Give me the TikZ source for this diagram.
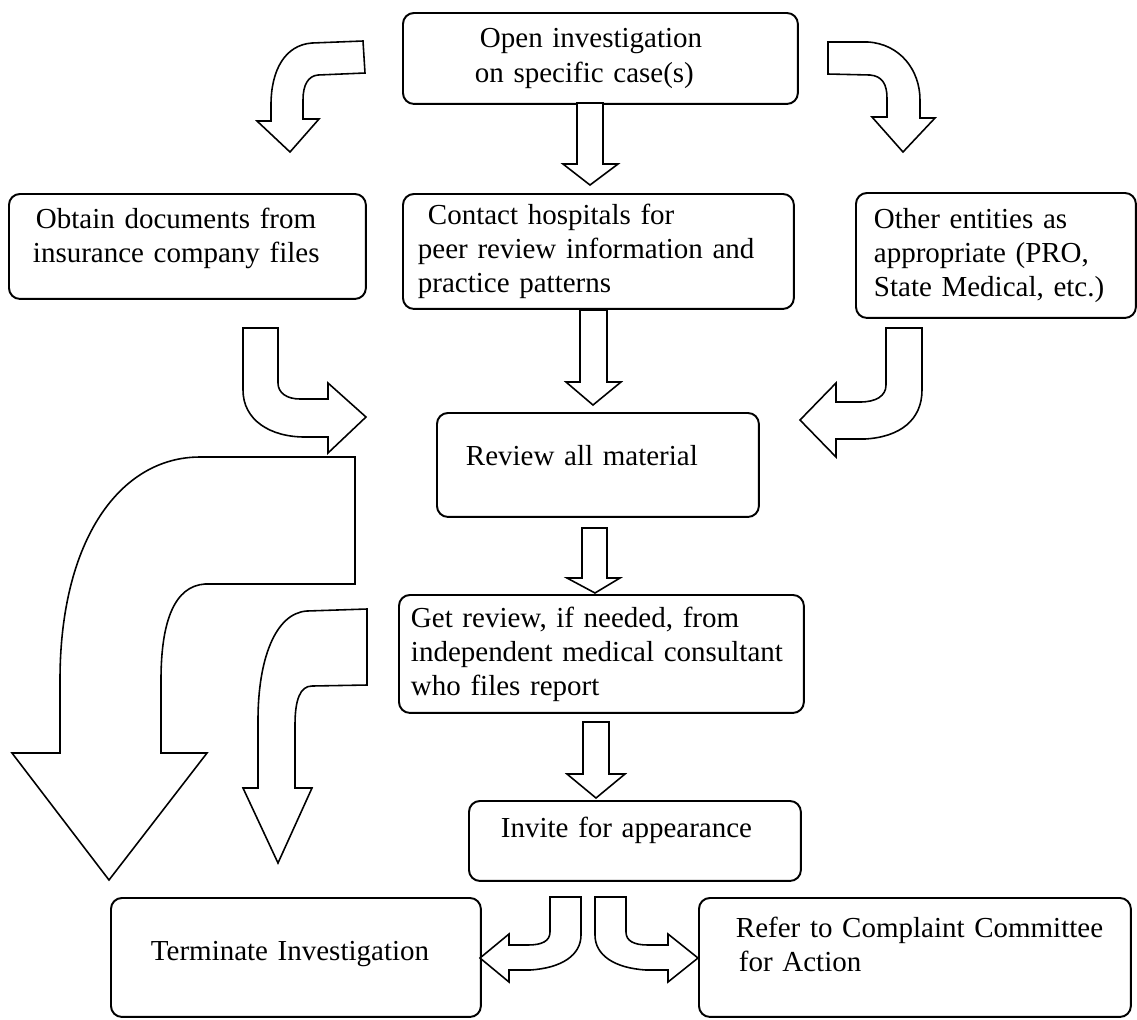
\documentclass[tikz,border=0pt]{standalone}
\usepackage{fontspec}
\setmainfont{Liberation Serif}
\begin{document}
\begin{tikzpicture}[x=0.02cm,y=-0.02cm,
	box/.style={draw,line width=1.1pt,rounded corners=0.22cm,anchor=north west,align=left,inner ysep=0pt,font=\fontsize{16.5}{19.4}\selectfont},
	blockarrow/.style={draw,line width=0.9pt,fill=white,line join=miter}]
	\useasboundingbox (0,0) rectangle (1137,1019);

	%boxes
	\node[box,minimum width=7.9cm,minimum height=1.82cm,text width=5.02cm,inner xsep=1.44cm] (open) at (402,12) {\hspace*{0.1cm}Open investigation\\on specific case(s)};
	\node[box,minimum width=7.14cm,minimum height=2.1cm,text width=6.18cm,inner xsep=0.48cm] (obtain) at (8,193) {\hspace*{0.06cm}Obtain documents from\\insurance company files\\[-0.23cm]\mbox{}};
	\node[box,minimum width=7.82cm,minimum height=2.3cm,text width=7.22cm,inner xsep=0.3cm] (contact) at (402,193) {\hspace*{0.2cm}Contact hospitals for\\peer review information and\\practice patterns};
	\node[box,minimum width=5.6cm,minimum height=2.5cm,text width=4.88cm,inner xsep=0.36cm] (other) at (855,192) {Other entities as\\appropriate (PRO,\\State Medical, etc.)};
	\node[box,minimum width=6.44cm,minimum height=2.08cm,text width=5.28cm,inner xsep=0.58cm] (review) at (436,412) {Review all material\\[-0.32cm]\mbox{}};
	\node[box,minimum width=8.1cm,minimum height=2.36cm,text width=7.62cm,inner xsep=0.24cm] (getrev) at (398,594) {Get review, if needed, from\\independent medical consultant\\who files report};
	\node[box,minimum width=6.64cm,minimum height=1.6cm,text width=5.84cm,inner xsep=0.4cm] (invite) at (468,800) {\hspace*{0.24cm}Invite for appearance\\[-0.15cm]\mbox{}};
	\node[box,minimum width=7.4cm,minimum height=2.38cm,text width=5.8cm,inner xsep=0.8cm] (terminate) at (110,897) {Terminate Investigation\\[-0.43cm]\mbox{}};
	\node[box,minimum width=8.64cm,minimum height=2.38cm,text width=7.84cm,inner xsep=0.4cm] (refer) at (698,897) {\hspace*{0.34cm}Refer to Complaint Committee\\\hspace*{0.4cm}for Action\\[-0.16cm]\mbox{}};

	%straight arrows
	\draw[blockarrow] (577,103) -- (577,164) -- (563,164) -- (590,185) -- (618,164) -- (603,164) -- (603,103) -- cycle; %open to contact
	\draw[blockarrow] (580,310) -- (580,382) -- (566,382) -- (593,405) -- (621,382) -- (607,382) -- (607,310) -- cycle; %contact to review
	\draw[blockarrow] (582,528) -- (582,578) -- (567,578) -- (595,593) -- (620,578) -- (607,578) -- (607,528) -- cycle; %review to get review
	\draw[blockarrow] (583,722) -- (583,774) -- (567,774) -- (596,798) -- (625,774) -- (609,774) -- (609,722) -- cycle; %get review to invite

	%bent arrows from open
	\draw[blockarrow] (363,41) -- (312,43) .. controls (285,45) and (271,70) .. (271,105) -- (271,121) -- (257,121) -- (290,152) -- (319,119) -- (303,119) -- (303,100) .. controls (303,85) and (308,76) .. (318,75) -- (365,73) -- cycle; %to obtain
	\draw[blockarrow] (828,42) -- (868,42) .. controls (900,44) and (920,70) .. (920,100) -- (920,118) -- (935,118) -- (903,152) -- (872,117) -- (887,117) -- (887,98) .. controls (887,84) and (882,76) .. (870,75) -- (828,74) -- cycle; %to other

	%bent arrows into review
	\draw[blockarrow] (243,328) -- (243,390) .. controls (243,420) and (270,437) .. (305,437) -- (328,437) -- (328,453) -- (366,417) -- (328,383) -- (328,399) -- (300,399) .. controls (287,399) and (278,393) .. (278,383) -- (278,328) -- cycle; %from obtain
	\draw[blockarrow] (886,328) -- (886,385) .. controls (886,396) and (876,402) .. (860,402) -- (836,402) -- (836,383) -- (800,420) -- (836,457) -- (836,439) -- (865,439) .. controls (900,437) and (922,420) .. (922,390) -- (922,328) -- cycle; %from other

	%bent arrows to terminate
	\draw[blockarrow] (355,457) -- (200,457) .. controls (120,457) and (60,540) .. (60,680) -- (60,753) -- (12,753) -- (109,880) -- (207,753) -- (161,753) -- (161,680) .. controls (161,620) and (175,586) .. (205,584) -- (355,584) -- cycle; %big arrow
	\draw[blockarrow] (367,609) -- (307,611) .. controls (275,613) and (258,660) .. (258,720) -- (258,788) -- (243,788) -- (278,863) -- (312,788) -- (295,788) -- (295,725) .. controls (295,700) and (300,686) .. (312,686) -- (367,685) -- cycle; %small arrow

	%arrows from invite
	\draw[blockarrow] (550,897) -- (550,932) .. controls (550,941) and (542,945) .. (528,945) -- (509,945) -- (509,934) -- (480,958) -- (509,982) -- (509,970) -- (530,970) .. controls (562,968) and (581,955) .. (581,935) -- (581,897) -- cycle; %to terminate
	\draw[blockarrow] (626,897) -- (626,932) .. controls (626,941) and (634,945) .. (648,945) -- (668,945) -- (668,934) -- (698,958) -- (668,982) -- (668,970) -- (646,970) .. controls (614,968) and (595,955) .. (595,935) -- (595,897) -- cycle; %to refer
\end{tikzpicture}
\end{document}
